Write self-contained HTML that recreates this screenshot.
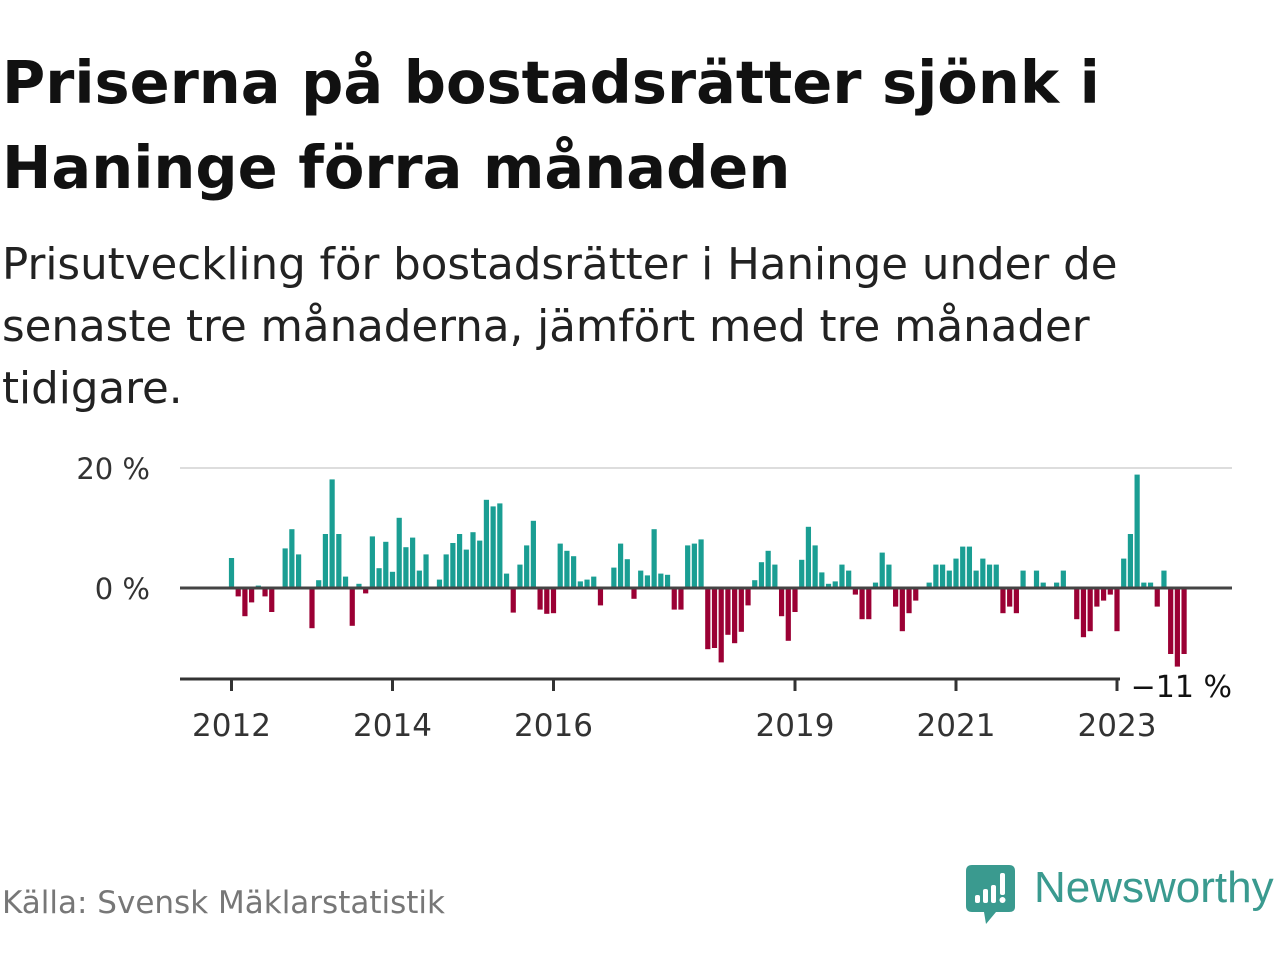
<!DOCTYPE html>
<html><head><meta charset="utf-8">
<style>
body{margin:0;width:1280px;height:960px;background:#fff;overflow:hidden;font-family:"DejaVu Sans",sans-serif;position:relative}
.t{position:absolute;left:2px;white-space:nowrap}
#title{top:40px;font-size:59px;font-weight:bold;color:#111;line-height:85px}
#sub{top:234px;font-size:43.5px;color:#222;line-height:62px}
#src{left:2px;top:885px;font-size:31px;color:#777}
</style></head><body>
<div id="title" class="t">Priserna på bostadsrätter sjönk i<br>Haninge förra månaden</div>
<div id="sub" class="t">Prisutveckling för bostadsrätter i Haninge under de<br>senaste tre månaderna, jämfört med tre månader<br>tidigare.</div>
<svg id="chart" width="1280" height="960" style="position:absolute;left:0;top:0"></svg>
<div id="src" class="t">Källa: Svensk Mäklarstatistik</div>
<div style="position:absolute;left:966px;top:865px;width:320px;height:62px">
<svg width="52" height="62" style="position:absolute;left:0;top:0">
<path d="M6 0H43Q49 0 49 6V42Q49 47 43 47H30L20 59L18 47H6Q0 47 0 41V6Q0 0 6 0Z" fill="#3a9a8f"/>
<rect x="9" y="30" width="5" height="8" rx="2" fill="#fff"/><rect x="17" y="24" width="5" height="14" rx="2" fill="#fff"/><rect x="25" y="20" width="5" height="18" rx="2" fill="#fff"/><rect x="34" y="8" width="5" height="22" rx="2" fill="#fff"/><circle cx="36.5" cy="35" r="3" fill="#fff"/>
</svg>
<div style="position:absolute;left:68px;top:-2px;font-size:44px;color:#3a9a8f;white-space:nowrap;font-family:'Liberation Sans',sans-serif">Newsworthy</div>
</div>
<script>
const values=[5,-1.4,-4.7,-2.4,0.4,-1.4,-4,0,6.6,9.8,5.6,0,-6.7,1.3,9,18.1,9,1.9,-6.3,0.7,-0.9,8.6,3.3,7.7,2.7,11.7,6.8,8.4,2.9,5.6,0,1.4,5.6,7.5,9,6.4,9.3,7.9,14.7,13.6,14.1,2.4,-4.1,3.9,7.1,11.2,-3.6,-4.3,-4.2,7.4,6.2,5.3,1.1,1.4,1.9,-2.9,0,3.4,7.4,4.8,-1.8,2.9,2.1,9.8,2.4,2.2,-3.6,-3.6,7.1,7.4,8.1,-10.2,-10,-12.4,-7.8,-9.2,-7.3,-2.9,1.3,4.3,6.2,3.9,-4.7,-8.8,-4,4.7,10.2,7.1,2.6,0.7,1.1,3.9,2.9,-1.1,-5.2,-5.2,0.9,5.9,3.9,-3.1,-7.2,-4.2,-2.1,0,0.9,3.9,3.9,2.9,4.9,6.9,6.9,2.9,4.9,3.9,3.9,-4.2,-3.1,-4.2,2.9,0,2.9,0.9,0,0.9,2.9,0,-5.2,-8.2,-7.2,-3.1,-2.1,-1.1,-7.2,4.9,9,18.9,0.9,0.9,-3.1,2.9,-11,-13.1,-11];
const startYear=2012;
const yTicks=[0,20];
const yTickLabels=["0 %","20 %"];
const xTickYears=[2012,2014,2016,2019,2021,2023];
const lastLabel="−11 %";
const NS="http://www.w3.org/2000/svg";
const svg=document.getElementById('chart');
const y=v=>588-v*6;
const x=m=>231.5+m*80.5/12;
function mk(t,a){const e=document.createElementNS(NS,t);for(const k in a)e.setAttribute(k,a[k]);svg.appendChild(e);return e;}
yTicks.forEach((v,i)=>{
  if(v!==0){const g=mk('line',{x1:180,x2:1232,y1:y(v),y2:y(v),stroke:'#ddd','stroke-width':2});
  
  }
  const t=mk('text',{x:150,y:y(v)+11,'text-anchor':'end','font-size':29,fill:'#333','font-family':'DejaVu Sans, sans-serif'});
  t.textContent=yTickLabels[i];
  
  
});
values.forEach((v,i)=>{
  const r=mk('rect',{x:x(i)-2.6,width:5.2,y:Math.min(y(v),y(0)),height:Math.abs(y(v)-y(0)),fill:v>=0?'#1a9e93':'#9b0034'});
  
  
});
const z=mk('line',{x1:180,x2:1232,y1:y(0),y2:y(0),stroke:'#444','stroke-width':3});


const ax=mk('line',{x1:180,x2:1120,y1:679,y2:679,stroke:'#333','stroke-width':3});


xTickYears.forEach(yr=>{
  const xx=x((yr-startYear)*12);
  const tk=mk('line',{x1:xx,x2:xx,y1:679,y2:691,stroke:'#333','stroke-width':3});
  
  
  const t=mk('text',{x:xx,y:736,'text-anchor':'middle','font-size':31,fill:'#333','font-family':'DejaVu Sans, sans-serif'});
  t.textContent=yr;
  
  
});
const ll=mk('text',{x:1232,y:697,'text-anchor':'end','font-size':30,fill:'#111','font-family':'DejaVu Sans, sans-serif'});
ll.textContent=lastLabel;


</script>
</body></html>
